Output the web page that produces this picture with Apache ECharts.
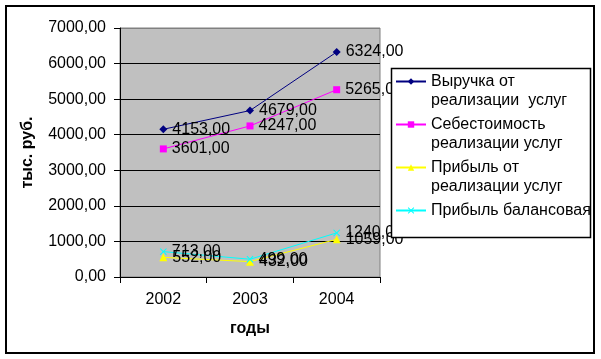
<!DOCTYPE html>
<html>
<head>
<meta charset="utf-8">
<script src="https://cdn.jsdelivr.net/npm/echarts@6/dist/echarts.min.js"></script>
<style>html,body{margin:0;padding:0;background:#fff}#c{width:601px;height:359px}</style>
</head>
<body>
<div id="c"></div>
<script>
var categories = ['2002', '2003', '2004'];
var revenue = [4153, 4679, 6324];
var cost = [3601, 4247, 5265];
var salesProfit = [552, 432, 1059];
var balanceProfit = [713, 499, 1240];
var seriesNames = ['Выручка от реализации  услуг', 'Себестоимость реализации услуг', 'Прибыль от реализации услуг', 'Прибыль балансовая'];
var legendLabels = ['\nВыручка от\nреализации  услуг', '\nСебестоимость\nреализации услуг', '\nПрибыль от\nреализации услуг', '\nПрибыль балансовая\n'];

var FONT = 'Arial, "Liberation Sans", sans-serif';
function fmt(v) { return Number(v).toFixed(2).replace('.', ','); }

var chart = echarts.init(document.getElementById('c'), null, {renderer: 'canvas'});
var xSym = 'path://M0,1L1,0L5,4L9,0L10,1L6,5L10,9L9,10L5,6L1,10L0,9L4,5Z';

function mk(name, data, color, symbol, size) {
  return {
    name: name, type: 'line', data: data,
    symbol: symbol, symbolSize: size,
    lineStyle: {color: color, width: 1},
    itemStyle: {color: color, borderWidth: 0},
    label: {show: true, position: 'right', distance: 5, color: '#000', fontSize: 16, fontFamily: FONT,
      formatter: function (p) { return fmt(p.value); }},
    emphasis: {disabled: true},
    animation: false
  };
}

chart.setOption({
  animation: false,
  textStyle: {fontFamily: FONT},
  graphic: [
    {type: 'rect', z: 0, silent: true, shape: {x: 6, y: 6, width: 588, height: 347},
      style: {fill: 'none', stroke: '#000', lineWidth: 2}},
    {type: 'rect', z: 100, zlevel: 0, silent: true, shape: {x: 391.5, y: 68.5, width: 199, height: 169},
      style: {fill: '#fff', stroke: '#000', lineWidth: 1.5}}
  ],
  grid: {left: 120, top: 28, right: 221, bottom: 82, show: true, backgroundColor: '#C0C0C0',
    borderColor: '#808080', borderWidth: 1, containLabel: false, outerBoundsMode: 'none'},
  legend: {
    orient: 'vertical', left: 395, top: 53, padding: 0, itemGap: -14,
    itemWidth: 30, itemHeight: 8, z: 200,
    data: seriesNames,
    formatter: function (n) { return legendLabels[seriesNames.indexOf(n)]; },
    textStyle: {fontSize: 16, fontFamily: FONT, color: '#000', lineHeight: 19},
    selectedMode: false
  },
  xAxis: {
    type: 'category', data: categories, boundaryGap: true,
    name: 'годы', nameLocation: 'middle', nameGap: 44,
    nameTextStyle: {fontSize: 16, fontWeight: 'bold', color: '#000', fontFamily: FONT},
    axisLine: {lineStyle: {color: '#000', width: 1}},
    axisTick: {show: true, length: 6, alignWithLabel: false, lineStyle: {color: '#000'}},
    axisLabel: {fontSize: 16, color: '#000', margin: 15, fontFamily: FONT},
    splitLine: {show: false}
  },
  yAxis: {
    type: 'value', min: 0, max: 7000, interval: 1000,
    name: 'тыс. руб.', nameLocation: 'middle', nameGap: 84,
    nameTextStyle: {fontSize: 16, fontWeight: 'bold', color: '#000', fontFamily: FONT},
    axisLine: {show: true, lineStyle: {color: '#000', width: 1}},
    axisTick: {show: true, length: 6, inside: false, lineStyle: {color: '#000'}},
    axisLabel: {fontSize: 16, color: '#000', margin: 14, fontFamily: FONT, formatter: fmt},
    splitLine: {show: true, lineStyle: {color: ['#000', '#000', '#000', '#000', '#000', '#000', '#000', '#808080'], width: 1}}
  },
  series: [
    mk(seriesNames[0], revenue, '#000080', 'diamond', 8),
    mk(seriesNames[1], cost, '#FF00FF', 'rect', 7),
    mk(seriesNames[2], salesProfit, '#FFFF00', 'triangle', 8),
    mk(seriesNames[3], balanceProfit, '#00FFFF', xSym, 7)
  ]
});
</script>
</body>
</html>
